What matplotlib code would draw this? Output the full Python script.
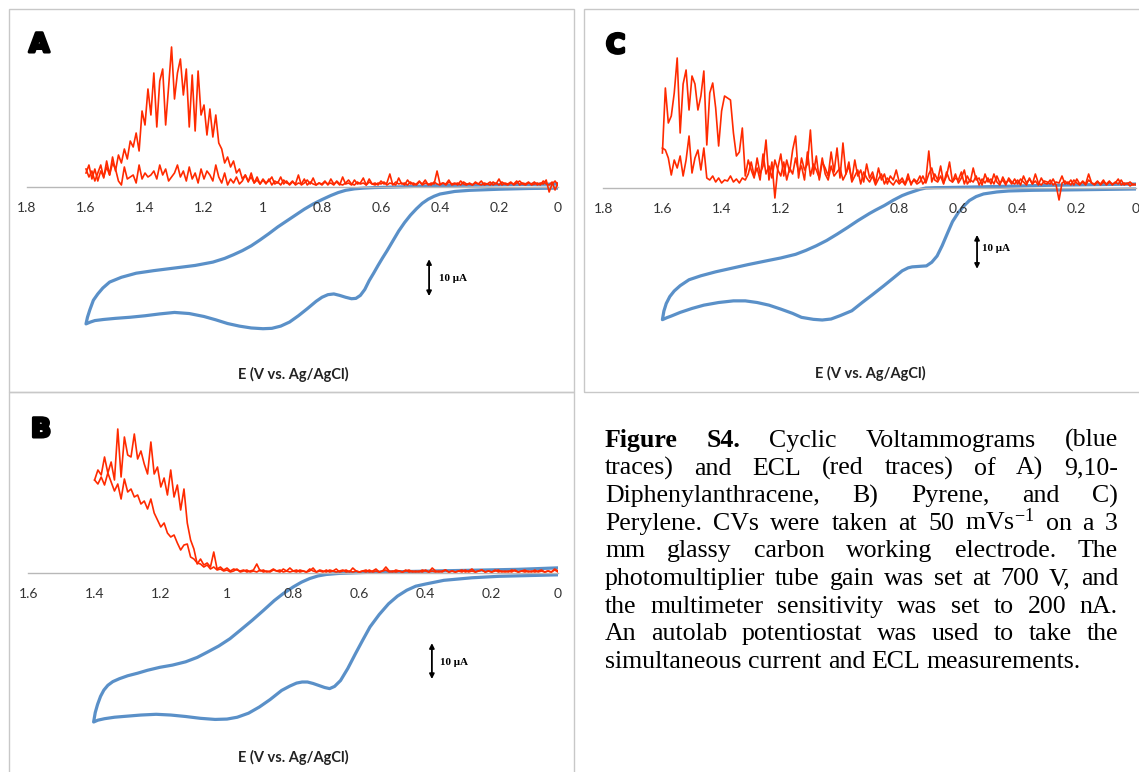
import numpy as np
import matplotlib.pyplot as plt
import matplotlib.patheffects as pe
from matplotlib.patches import Rectangle

plt.rcParams['font.family'] = ['Lato', 'DejaVu Sans']
plt.rcParams['mathtext.fontset'] = 'custom'
plt.rcParams['mathtext.rm'] = 'Liberation Serif'
plt.rcParams['mathtext.it'] = 'Liberation Serif:italic'
plt.rcParams['mathtext.bf'] = 'Liberation Serif:bold'

# ---- data ----
# CV (current in uA, potential in V vs Ag/AgCl), forward = 0 -> E_max, reverse = E_max -> 0
cv_a_fwd_e = [0.00, 0.20, 0.40, 0.55, 0.62, 0.66, 0.69, 0.72, 0.745, 0.77, 0.80, 0.83, 0.86, 0.89,
              0.92, 0.95, 0.98, 1.01, 1.04, 1.07, 1.10, 1.13, 1.17, 1.23, 1.30, 1.37, 1.43, 1.48,
              1.52, 1.543, 1.56, 1.575, 1.587, 1.595, 1.60]
cv_a_fwd_i = [0.8, 0.6, 0.4, 0.0, -0.15, -0.3, -0.5, -0.9, -1.5, -2.3, -3.4, -4.6, -6.0, -7.6,
              -9.2, -10.8, -12.6, -14.3, -15.9, -17.2, -18.3, -19.3, -20.3, -21.2, -21.9, -22.6, -23.3, -24.4,
              -25.7, -27.3, -28.9, -30.6, -33.2, -35.2, -37.0]
cv_a_rev_e = [1.60, 1.585, 1.57, 1.54, 1.50, 1.45, 1.40, 1.35, 1.30, 1.25, 1.20, 1.16, 1.12, 1.08,
              1.04, 1.00, 0.97, 0.94, 0.91, 0.88, 0.85, 0.82, 0.80, 0.78, 0.76, 0.74, 0.72, 0.70,
              0.685, 0.67, 0.655, 0.64, 0.625, 0.61, 0.595, 0.58, 0.56, 0.54, 0.52, 0.50, 0.48, 0.46,
              0.44, 0.42, 0.40, 0.35, 0.30, 0.20, 0.10, 0.00]
cv_a_rev_i = [-37.0, -36.5, -36.1, -35.8, -35.5, -35.2, -34.8, -34.3, -33.9, -34.2, -35.0, -35.9, -36.9, -37.6,
              -38.1, -38.3, -38.2, -37.6, -36.5, -34.8, -32.9, -30.9, -29.8, -29.1, -28.9, -29.3, -29.8, -30.2,
              -30.1, -29.3, -27.7, -25.3, -23.3, -21.2, -19.2, -17.3, -14.6, -11.9, -9.6, -7.6, -5.9, -4.4,
              -3.3, -2.5, -1.9, -1.2, -0.9, -0.6, -0.4, -0.3]

cv_b_fwd_e = [0.00, 0.12, 0.345, 0.568, 0.66, 0.70, 0.725, 0.75, 0.775, 0.80, 0.83, 0.857, 0.89, 0.924,
              0.96, 0.991, 1.025, 1.058, 1.09, 1.125, 1.165, 1.203, 1.24, 1.27, 1.30, 1.325, 1.345, 1.36,
              1.372, 1.382, 1.391, 1.398, 1.403]
cv_b_fwd_i = [1.4, 1.0, 0.6, 0.2, -0.1, -0.4, -0.8, -1.5, -2.5, -3.8, -5.6, -7.5, -10.2, -12.9,
              -15.6, -17.9, -19.9, -21.5, -23.0, -24.2, -25.1, -25.7, -26.5, -27.3, -28.0, -28.8, -29.6, -30.6,
              -31.9, -33.6, -35.8, -38.0, -40.6]
cv_b_rev_e = [1.403, 1.39, 1.37, 1.34, 1.314, 1.26, 1.214, 1.17, 1.125, 1.08, 1.036, 1.00, 0.969, 0.935,
              0.902, 0.87, 0.835, 0.81, 0.79, 0.773, 0.757, 0.74, 0.724, 0.705, 0.69, 0.675, 0.657, 0.635,
              0.612, 0.59, 0.568, 0.54, 0.512, 0.485, 0.457, 0.43, 0.40, 0.345, 0.26, 0.178, 0.00]
cv_b_rev_i = [-40.6, -40.1, -39.7, -39.3, -39.1, -38.7, -38.5, -38.7, -39.1, -39.6, -39.9, -39.8, -39.3, -38.2,
              -36.5, -34.5, -32.0, -30.8, -30.0, -29.7, -29.7, -30.1, -30.6, -31.2, -31.5, -30.9, -29.3, -26.0,
              -22.0, -18.3, -14.7, -11.3, -8.4, -6.3, -4.7, -3.6, -3.0, -2.0, -1.3, -0.9, -0.5]

cv_c_fwd_e = [0.00, 0.30, 0.60, 0.68, 0.71, 0.73, 0.75, 0.77, 0.79, 0.82, 0.85, 0.88, 0.90, 0.94,
              0.975, 1.01, 1.045, 1.08, 1.115, 1.15, 1.20, 1.25, 1.31, 1.37, 1.42, 1.47, 1.51, 1.54,
              1.56, 1.575, 1.587, 1.595, 1.60]
cv_c_fwd_i = [1.2, 0.8, 0.2, 0.1, 0.0, -0.4, -1.0, -1.6, -2.3, -3.7, -5.3, -6.7, -7.7, -9.9,
              -12.0, -14.0, -15.9, -17.5, -18.9, -20.1, -21.2, -22.1, -23.2, -24.4, -25.4, -26.6, -27.8, -29.6,
              -31.2, -32.9, -35.0, -37.3, -39.9]
cv_c_rev_e = [1.60, 1.585, 1.57, 1.54, 1.50, 1.46, 1.41, 1.36, 1.32, 1.28, 1.24, 1.20, 1.16, 1.13,
              1.09, 1.06, 1.03, 1.00, 0.96, 0.925, 0.89, 0.853, 0.82, 0.79, 0.77, 0.756, 0.74, 0.725,
              0.708, 0.69, 0.672, 0.655, 0.636, 0.62, 0.60, 0.58, 0.563, 0.54, 0.515, 0.47, 0.43, 0.35,
              0.25, 0.00]
cv_c_rev_i = [-39.9, -39.3, -38.8, -37.7, -36.5, -35.5, -34.7, -34.2, -34.2, -34.7, -35.5, -36.7, -38.0, -39.2,
              -39.8, -40.0, -39.7, -38.7, -37.2, -34.7, -32.3, -29.7, -27.3, -25.1, -24.2, -23.9, -23.8, -23.7,
              -23.6, -22.5, -20.6, -17.5, -13.5, -10.2, -7.4, -5.3, -3.8, -2.6, -1.8, -1.2, -0.9, -0.7,
              -0.6, -0.3]

# ECL intensity (a.u.), sampled every 10 mV from E_max down to 0 V
ecl_e_16 = np.round(np.linspace(1.6, 0.0, 161), 2)
ecl_e_14 = np.round(np.linspace(1.4, 0.0, 141), 2)

ecl_a_1 = [18, 10, 16, 6, 14, 22, 9, 26, 12, 30,
           16, 32, 24, 38, 28, 46, 40, 54, 36, 76,
           62, 98, 72, 114, 60, 106, 118, 62, 100, 140,
           88, 114, 128, 92, 118, 60, 112, 56, 116, 72,
           82, 52, 78, 50, 72, 44, 38, 24, 30, 20,
           26, 14, 18, 8, 12, 6, 10, 4, 7, 3,
           7, 3, 8, 2, 6, 4, 10, 3, 6, 2,
           5, 3, 12, 2, 4, 7, 3, 9, 2, 4,
           3, 6, 2, 8, 3, 5, 2, 10, 3, 4,
           2, 7, 3, 4, 9, 2, 5, 3, 4, 2,
           6, 3, 4, 13, 2, 5, 3, 4, 2, 7,
           3, 4, 2, 5, 3, 7, 2, 4, 3, 16,
           3, 4, 2, 5, 3, 4, 2, 6, 3, 2,
           4, 2, 5, 3, 2, 4, 3, 2, 5, 3,
           8, 2, 4, 3, 5, 2, 4, 6, 3, 2,
           4, 3, 5, 2, 4, 3, 7, -5, 3, 6, 2]
ecl_a_2 = [14, 22, 8, 18, 6, 16, 10, 20, 12, 24,
           18, 6, 2, 20, 8, 10, 12, 4, 22, 8,
           14, 10, 12, 16, 8, 22, 12, 18, 6, 10,
           14, 22, 10, 16, 6, 20, 8, 14, 4, 18,
           8, 16, 12, 6, 22, 10, 4, 14, 2, 8,
           4, 10, 3, 6, 12, 5, 14, 4, 10, 3,
           8, 4, 6, 10, 3, 5, 2, 7, 4, 3,
           6, 2, 4, 3, 8, 2, 5, 3, 2, 4,
           2, 5, 3, 4, 2, 6, 3, 2, 4, 7,
           3, 2, 5, 3, 4, 2, 8, 3, 2, 4,
           3, 5, 2, 4, 3, 2, 9, 3, 4, 2,
           5, 2, 3, 6, 2, 4, 3, 2, 5, 3,
           2, 4, 3, 7, 2, 3, 4, 2, 5, 3,
           3, 2, 4, 3, 6, 2, 3, 5, 2, 4,
           2, 5, 3, 2, 4, 3, 6, 2, 4, 3,
           5, 2, 3, 4, 2, 6, 3, 2, 5, -3, 4]

ecl_b_1 = [93, 103, 98, 116, 100, 111, 93, 144, 96, 136,
           118, 116, 139, 114, 122, 109, 99, 131, 99, 106,
           86, 95, 78, 103, 76, 88, 63, 84, 50, 33,
           24, 9, 14, 8, 10, 6, 21, 4, 6, 3,
           5, 2, 4, 3, 2, 3, 1, 2, 3, 9,
           2, 3, 1, 2, 4, 2, 3, 1, 2, 5,
           2, 1, 3, 2, 1, 4, 2, 1, 3, 2,
           1, 3, 2, 4, 1, 2, 3, 1, 5, 2,
           1, 2, 3, 1, 2, 4, 1, 2, 6, 2,
           1, 3, 2, 1, 2, 3, 1, 2, 1, 3,
           2, 1, 5, 2, 1, 2, 3, 1, 2, 1,
           2, 3, 1, 2, 4, 1, 2, 3, 1, 2,
           1, 2, 3, 1, 2, 1, 3, 2, 1, 2,
           3, 1, 2, 1, 2, 3, 1, 2, 1, 4, 2]
ecl_b_2 = [93, 89, 96, 88, 100, 91, 82, 89, 74, 94,
           81, 84, 76, 78, 69, 72, 64, 74, 60, 53,
           46, 50, 40, 36, 38, 30, 23, 28, 29, 16,
           14, 10, 9, 6, 8, 4, 6, 3, 4, 2,
           3, 1, 2, 4, 1, 2, 3, 1, 2, 1,
           3, 1, 2, 1, 3, 2, 1, 4, 2, 1,
           2, 3, 1, 2, 1, 2, 5, 1, 2, 1,
           3, 1, 2, 1, 2, 3, 1, 2, 1, 2,
           1, 2, 1, 3, 1, 2, 1, 2, 3, 1,
           2, 1, 2, 1, 3, 1, 2, 1, 2, 1,
           3, 1, 2, 1, 2, 1, 3, 1, 2, 1,
           2, 1, 3, 1, 2, 1, 2, 3, 1, 2,
           1, 3, 1, 2, 1, 2, 1, 3, 1, 2,
           1, 2, 1, 3, 1, 2, 1, 2, 1, 3, 1]

ecl_c_1 = [35, 100, 65, 72, 95, 130, 55, 104, 118, 78,
           112, 104, 78, 92, 117, 43, 95, 105, 80, 42,
           77, 92, 90, 88, 55, 32, 36, 60, 12, 28,
           18, 10, 30, 14, 22, 48, 8, 26, -10, 20,
           34, 12, 28, 16, 38, 52, 10, 30, 18, 24,
           58, 14, 32, 8, 26, 20, 12, 36, 16, 40,
           10, 45, 14, 22, 8, 28, 12, 18, 6, 24,
           10, 16, 5, 20, 8, 14, 4, 12, 8, 18,
           6, 10, 4, 14, 3, 9, 6, 12, 4, 8,
           37, 6, 14, 8, 22, 5, 12, 26, 6, 10,
           8, 16, 4, 12, 6, 20, 8, 10, 3, 14,
           6, 9, 4, 12, 5, 8, 3, 10, 6, 4,
           8, 3, 12, 5, 9, 4, 7, 3, 10, 5,
           4, 8, 3, 6, 5, 12, 4, 6, 3, 8,
           5, 3, 7, 4, 14, 5, 3, 6, 4, 8,
           3, 6, 4, 5, 9, 3, 5, 4, 6, 3, 4]
ecl_c_2 = [40, 38, 30, 13, 28, 20, 32, 12, 28, 52,
           15, 30, 38, 18, 40, 10, 8, 12, 6, 10,
           5, 8, 7, 12, 6, 9, 5, 10, 8, 14,
           26, 12, 20, 8, 34, 14, 22, 10, 28, 18,
           12, 26, 8, 20, 14, 30, 16, 22, 8, 36,
           12, 24, 18, 10, 30, 14, 8, 22, 12, 16,
           20, 8, 14, 26, 6, 12, 18, 4, 16, 10,
           6, 12, 3, 9, 14, 4, 10, 6, 3, 8,
           4, 7, 3, 10, 5, 8, 4, 6, 12, 5,
           14, 20, 8, 6, 12, 4, 16, 8, 6, 14,
           5, 10, 18, 4, 8, 6, 12, 3, 9, 5,
           10, 4, 14, 6, 3, 11, 5, 8, 4, 9,
           4, 9, 6, 3, 10, 4, 14, 5, 3, 7,
           6, 4, 9, 3, -12, 5, 7, 4, 8, 3,
           9, 4, 6, 3, 8, 5, 4, 7, 3, 6,
           4, 7, 3, 6, 4, 8, 3, 5, 2, 4, 3]

ticks_18 = [1.8, 1.6, 1.4, 1.2, 1.0, 0.8, 0.6, 0.4, 0.2, 0.0]
labels_18 = ['1.8', '1.6', '1.4', '1.2', '1', '0.8', '0.6', '0.4', '0.2', '0']
ticks_16 = [1.6, 1.4, 1.2, 1.0, 0.8, 0.6, 0.4, 0.2, 0.0]
labels_16 = ['1.6', '1.4', '1.2', '1', '0.8', '0.6', '0.4', '0.2', '0']

xlabel = 'E (V vs. Ag/AgCl)'
scale_label = '10 μA'

caption_lines = [
    "Figure S4. Cyclic Voltammograms (blue",
    "traces) and ECL (red traces) of A) 9,10-",
    "Diphenylanthracene, B) Pyrene, and C)",
    "Perylene. CVs were taken at 50 mVs$^{-1}$ on a 3",
    "mm glassy carbon working electrode. The",
    "photomultiplier tube gain was set at 700 V, and",
    "the multimeter sensitivity was set to 200 nA.",
    "An autolab potentiostat was used to take the",
    "simultaneous current and ECL measurements.",
]

# ---- figure ----
W, H = 1139, 772
fig = plt.figure(figsize=(W / 100, H / 100), dpi=100)

BLUE = '#5a90c8'
RED = '#ff2a00'


def rect(x0, y0, x1, y1):
    return [x0 / W, 1 - y1 / H, (x1 - x0) / W, (y1 - y0) / H]


def panel(x0, x1, y_axis, px_per_ua, ticks, labels, ecl_e, ecl_1, ecl_2,
          fwd_e, fwd_i, rev_e, rev_i, bar, bar_text):
    top, bot = y_axis - 175, y_axis + 165
    ax = fig.add_axes(rect(x0, top, x1, bot))
    ax2 = ax.twinx()
    ax.set_xlim(ticks[0], 0)
    ax.set_ylim(-(bot - y_axis) / px_per_ua, (y_axis - top) / px_per_ua)
    ax2.set_ylim(-(bot - y_axis), y_axis - top)
    for s in ['top', 'left', 'right']:
        ax.spines[s].set_visible(False)
    ax.spines['bottom'].set_position(('data', 0))
    ax.spines['bottom'].set_color('#b8b8b8')
    ax.spines['bottom'].set_linewidth(1.0)
    for s in ax2.spines.values():
        s.set_visible(False)
    ax.set_yticks([])
    ax2.set_yticks([])
    ax.set_xticks(ticks, labels)
    ax.tick_params(axis='x', length=0, pad=11, labelsize=10, labelcolor='#333333')
    ax.set_axisbelow(False)
    ax.patch.set_visible(False)

    ax.plot(fwd_e + rev_e, fwd_i + rev_i, color=BLUE, lw=2.3,
            solid_joinstyle='round', solid_capstyle='round')
    ax2.plot(ecl_e, ecl_1, color=RED, lw=1.2)
    ax2.plot(ecl_e, ecl_2, color=RED, lw=1.2)

    ax.annotate('', xy=(bar[0], bar[1]), xytext=(bar[0], bar[2]),
                arrowprops=dict(arrowstyle='<|-|>', color='black', lw=1.3,
                                mutation_scale=7, shrinkA=0, shrinkB=0))
    ax.text(bar_text[0], bar_text[1], scale_label, family='Liberation Serif',
            weight='bold', fontsize=8, va='center', ha='left')


panel(27, 558, 187, 3.7, ticks_18, labels_18, ecl_e_16, ecl_a_1, ecl_a_2,
      cv_a_fwd_e, cv_a_fwd_i, cv_a_rev_e, cv_a_rev_i,
      (0.437, -19.5, -29.5), (0.405, -24.6))
panel(28.4, 558, 573, 3.67, ticks_16, labels_16, ecl_e_14, ecl_b_1, ecl_b_2,
      cv_b_fwd_e, cv_b_fwd_i, cv_b_rev_e, cv_b_rev_i,
      (0.381, -19.1, -28.9), (0.355, -24.5))
panel(603.2, 1136, 188, 3.3, ticks_18, labels_18, ecl_e_16, ecl_c_1, ecl_c_2,
      cv_c_fwd_e, cv_c_fwd_i, cv_c_rev_e, cv_c_rev_i,
      (0.537, -14.2, -24.5), (0.52, -18.2))

# panel frames
for x0, y0, x1, y1 in [(9, 9, 574, 392), (9, 392, 574, 800), (584, 9, 1160, 392)]:
    fig.add_artist(Rectangle((x0 / W, 1 - y1 / H), (x1 - x0) / W, (y1 - y0) / H,
                             transform=fig.transFigure, fill=False,
                             ec='#c8c8c8', lw=1.0))

# panel letters and axis titles
for letter, x, y in [('A', 29, 52), ('B', 31, 437), ('C', 606, 53)]:
    fig.text(x / W, 1 - y / H, letter, fontsize=19, weight='bold',
             family='DejaVu Sans', va='baseline', ha='left', color='black',
             path_effects=[pe.withStroke(linewidth=2.2, foreground='black')])
for x, y in [(293, 374), (293, 757), (870, 373)]:
    fig.text(x / W, 1 - y / H, xlabel, fontsize=10.5, weight='bold',
             ha='center', va='center', color='#222222')

# justified caption
renderer = fig.canvas.get_renderer()
cap_left, cap_right = 605, 1118
base0, step = 447, 27.6
cap_size = 18.6
for k, line in enumerate(caption_lines):
    words = line.split(' ')
    items = []
    for j, w in enumerate(words):
        t = fig.text(0, 0, w, fontsize=cap_size, family='Liberation Serif',
                     weight='bold' if (k == 0 and j < 2) else 'normal',
                     va='baseline', ha='left', color='black')
        items.append(t)
    widths = [t.get_window_extent(renderer).width for t in items]
    if k < len(caption_lines) - 1:
        gap = (cap_right - cap_left - sum(widths)) / (len(items) - 1)
    else:
        gap = 0.25 * cap_size * 100 / 72
    x = cap_left
    y = base0 + k * step
    for t, wd in zip(items, widths):
        t.set_position((x / W, 1 - y / H))
        x += wd + gap

fig.savefig('out.png', dpi=100)
